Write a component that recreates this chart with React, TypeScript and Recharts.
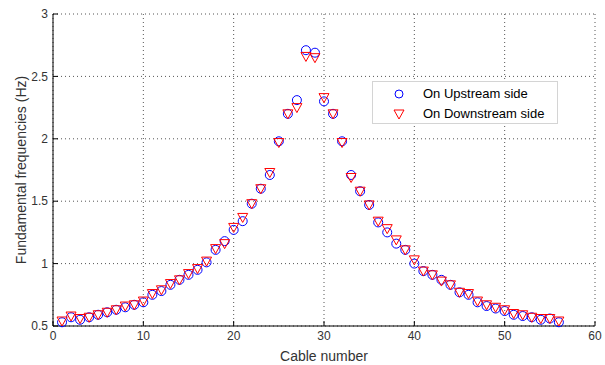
import { ScatterChart, Scatter, XAxis, YAxis, CartesianGrid, Legend } from "recharts";

const cables = [
  1, 2, 3, 4, 5, 6, 7, 8, 9, 10, 11, 12, 13, 14, 15, 16, 17, 18, 19, 20,
  21, 22, 23, 24, 25, 26, 27, 28, 29, 30, 31, 32, 33, 34, 35, 36, 37, 38, 39, 40,
  41, 42, 43, 44, 45, 46, 47, 48, 49, 50, 51, 52, 53, 54, 55, 56,
];

const upstream = [
  0.53, 0.57, 0.55, 0.57, 0.59, 0.61, 0.63, 0.65, 0.67, 0.69,
  0.75, 0.78, 0.83, 0.87, 0.91, 0.95, 1.01, 1.11, 1.18, 1.27,
  1.34, 1.48, 1.6, 1.71, 1.98, 2.2, 2.31, 2.71, 2.69, 2.3,
  2.2, 1.98, 1.71, 1.58, 1.47, 1.33, 1.25, 1.16, 1.11, 1.0,
  0.94, 0.91, 0.87, 0.83, 0.77, 0.75, 0.69, 0.66, 0.64, 0.62,
  0.59, 0.58, 0.57, 0.55, 0.56, 0.53,
];

const downstream = [
  0.54, 0.58, 0.56, 0.57, 0.59, 0.61, 0.63, 0.66, 0.67, 0.7,
  0.76, 0.79, 0.84, 0.87, 0.92, 0.96, 1.02, 1.12, 1.16, 1.29,
  1.37, 1.48, 1.6, 1.73, 1.97, 2.2, 2.25, 2.66, 2.65, 2.33,
  2.2, 1.97, 1.69, 1.58, 1.47, 1.34, 1.28, 1.19, 1.11, 1.03,
  0.94, 0.91, 0.86, 0.83, 0.77, 0.76, 0.7, 0.67, 0.65, 0.63,
  0.6, 0.59, 0.57, 0.56, 0.56, 0.54,
];

const xTicks = [0, 10, 20, 30, 40, 50, 60];
const yTicks = [0.5, 1, 1.5, 2, 2.5, 3];

const font = "'Liberation Sans', Arial, sans-serif";

const upData = cables.map((c, i) => ({ x: c, y: upstream[i] }));
const downData = cables.map((c, i) => ({ x: c, y: downstream[i] }));

const Circle = (props: any) => (
  <circle cx={props.cx} cy={props.cy} r={4.5} fill="none" stroke="#0000ff" strokeWidth={1} />
);

const Tri = (props: any) => {
  const { cx, cy } = props;
  return (
    <polygon
      points={`${cx - 5},${cy - 4} ${cx + 5},${cy - 4} ${cx},${cy + 5}`}
      fill="none"
      stroke="#ff0000"
      strokeWidth={1}
    />
  );
};

const renderLegend = () => (
  <div
    style={{
      position: "relative",
      width: 186,
      height: 43,
      boxSizing: "border-box",
      border: "1px solid #d4d4d4",
      background: "#fff",
      fontFamily: font,
      fontSize: 13,
      color: "#000",
    }}
  >
    <svg width={12} height={40} style={{ position: "absolute", left: 20, top: 0 }}>
      <circle cx={6} cy={12} r={4} fill="none" stroke="#0000ff" />
      <polygon points="1,28 11,28 6,37" fill="none" stroke="#ff0000" />
    </svg>
    <div style={{ position: "absolute", left: 50, top: 4 }}>On Upstream side</div>
    <div style={{ position: "absolute", left: 50, top: 24 }}>On Downstream side</div>
  </div>
);

const blank = () => <g />;

export default function App() {
  return (
    <div style={{ position: "absolute", left: 0, top: 0, width: 605, height: 365, background: "#fff" }}>
      <ScatterChart width={605} height={365} margin={{ top: 14, right: 10, bottom: 0, left: 0 }}>
        <CartesianGrid stroke="#555" strokeDasharray="1 3" />
        <XAxis
          type="number"
          dataKey="x"
          domain={[0, 60]}
          ticks={xTicks}
          height={39}
          stroke="#000"
          tickSize={-5}
          tickMargin={10}
          tick={{ fill: "#333", fontSize: 12, fontFamily: font }}
          label={{
            value: "Cable number",
            position: "insideBottom",
            offset: 4,
            fill: "#333",
            fontSize: 14,
            fontFamily: font,
          }}
        />
        <YAxis
          type="number"
          dataKey="y"
          domain={[0.5, 3]}
          ticks={yTicks}
          width={53}
          stroke="#000"
          tickSize={-5}
          tickMargin={10}
          tick={{ fill: "#333", fontSize: 12, fontFamily: font }}
          label={{
            value: "Fundamental frequencies (Hz)",
            angle: -90,
            position: "insideLeft",
            offset: 21,
            fill: "#333",
            fontSize: 14,
            fontFamily: font,
            style: { textAnchor: "middle" },
          }}
        />
        <XAxis
          xAxisId="top"
          orientation="top"
          type="number"
          domain={[0, 60]}
          ticks={xTicks}
          height={0}
          stroke="#000"
          tickSize={-5}
          tick={blank}
        />
        <YAxis
          yAxisId="right"
          orientation="right"
          type="number"
          domain={[0.5, 3]}
          ticks={yTicks}
          width={0}
          stroke="#000"
          tickSize={-5}
          tick={blank}
        />
        <Legend
          layout="vertical"
          verticalAlign="middle"
          align="center"
          wrapperStyle={{ left: 372, top: 81, width: 186, right: "auto", bottom: "auto" }}
          content={renderLegend}
        />
        <Scatter name="On Upstream side" data={upData} shape={Circle} isAnimationActive={false} />
        <Scatter name="On Downstream side" data={downData} shape={Tri} isAnimationActive={false} />
      </ScatterChart>
    </div>
  );
}
